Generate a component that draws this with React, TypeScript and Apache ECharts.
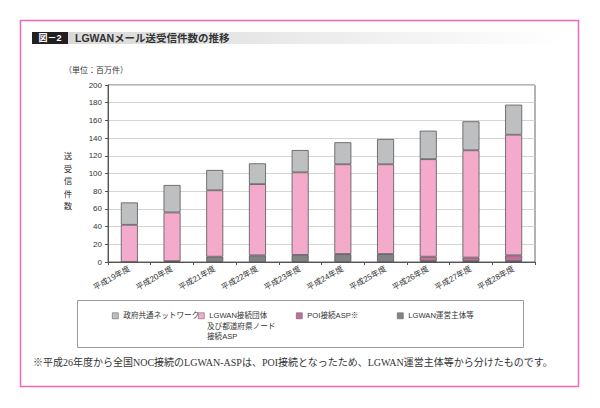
import React, { useEffect, useRef } from "react";
import * as echarts from "echarts";

const categories = [
  "平成19年度", "平成20年度", "平成21年度", "平成22年度", "平成23年度",
  "平成24年度", "平成25年度", "平成26年度", "平成27年度", "平成28年度",
];
// 百万件
const unyoShutai = [0, 1, 6, 7.5, 8, 9, 9, 1, 1, 1];
const poiAsp: (number | null)[] = [null, null, null, null, null, null, null, 5, 4, 6.5];
const lgwanDantai = [42, 55, 75, 80.5, 93.3, 101.4, 101.4, 110.2, 121.2, 136.3];
const seifuNet = [25.3, 31, 23, 23.5, 25.2, 24.9, 28.6, 32.2, 32.8, 34];
const yTicks = { min: 0, max: 200, interval: 20 };

const names = [
  "政府共通ネットワーク",
  "LGWAN接続団体及び都道府県ノード接続ASP",
  "POI接続ASP※",
  "LGWAN運営主体等",
];

const SANS = "Liberation Sans, Noto Sans CJK JP, sans-serif";

export default function App() {
  const ref = useRef<HTMLDivElement>(null);
  useEffect(() => {
    if (!ref.current) return;
    const chart = echarts.init(ref.current, null, { renderer: "svg" });
    const border = { borderColor: "#555", borderWidth: 0.8 };
    const mk = (name: string, data: any[], color: string) => ({
      name,
      type: "bar",
      stack: "total",
      data,
      barWidth: 17,
      itemStyle: { color, ...border },
    });
    const legendBase = {
      top: 312,
      padding: 0,
      itemWidth: 6,
      itemHeight: 6,
      itemGap: 3,
      icon: "rect",
      itemStyle: { borderColor: "#666", borderWidth: 0.6 },
      textStyle: { fontSize: 7.6, color: "#333", fontFamily: SANS },
      selectedMode: false,
    };
    chart.setOption({
      animation: false,
      backgroundColor: "#fff",
      textStyle: { fontFamily: SANS },
      grid: { left: 108, right: 65, top: 85, bottom: 146, show: true, borderColor: "#666", borderWidth: 1 },
      legend: [
        { ...legendBase, left: 112, data: [names[0]] },
        { ...legendBase, left: 198, data: [names[1]], formatter: () => "LGWAN接続団体" },
        { ...legendBase, left: 296, data: [names[2]] },
        { ...legendBase, left: 397, data: [names[3]] },
      ],
      xAxis: {
        type: "category",
        data: categories,
        axisLine: { lineStyle: { color: "#555" } },
        axisTick: { show: true, length: 3, lineStyle: { color: "#555" } },
        axisLabel: { rotate: 30, fontSize: 8, color: "#333", margin: 6, fontFamily: SANS },
      },
      yAxis: {
        type: "value",
        ...yTicks,
        axisLine: { show: true, lineStyle: { color: "#555" } },
        axisTick: { show: true, length: 3, lineStyle: { color: "#555" } },
        axisLabel: { fontSize: 8, color: "#333", margin: 6, fontFamily: SANS },
        splitLine: { lineStyle: { color: "#d4d4d4" } },
      },
      series: [
        mk(names[3], unyoShutai, "#838385"),
        mk(names[2], poiAsp, "#c2709b"),
        mk(names[1], lgwanDantai, "#f4aacb"),
        mk(names[0], seifuNet, "#bebfc1"),
      ],
      graphic: [
        { type: "rect", shape: { x: 20.5, y: 20.5, width: 558, height: 366 }, style: { fill: "none", stroke: "#f06ab8", lineWidth: 1.5 } },
        {
          type: "rect",
          shape: { x: 68, y: 32, width: 497, height: 12 },
          style: {
            fill: new echarts.graphic.LinearGradient(0, 0, 1, 0, [
              { offset: 0, color: "#d9d9d9" },
              { offset: 1, color: "#ffffff" },
            ]),
          },
        },
        { type: "rect", shape: { x: 32, y: 32, width: 36, height: 12 }, style: { fill: "#231f20" } },
        { type: "text", x: 50, y: 38, style: { text: "図－2", fill: "#fff", font: `bold 9px ${SANS}`, align: "center", verticalAlign: "middle" } },
        { type: "text", x: 75, y: 38, style: { text: "LGWANメール送受信件数の推移", fill: "#333", font: `bold 10.5px ${SANS}`, verticalAlign: "middle" } },
        { type: "text", x: 64, y: 70, style: { text: "（単位：百万件）", fill: "#333", font: `8px ${SANS}`, verticalAlign: "middle" } },
        { type: "text", x: 68, y: 180, style: { text: "送\n受\n信\n件\n数", fill: "#333", font: `8.5px Noto Sans CJK JP, sans-serif`, lineHeight: 12.5, align: "center", verticalAlign: "middle" } },
        { type: "text", x: 207, y: 321, style: { text: "及び都道府県ノード\n接続ASP", fill: "#333", font: `7.6px ${SANS}`, lineHeight: 10 } },
        { type: "rect", shape: { x: 77.5, y: 300.5, width: 446, height: 47 }, style: { fill: "none", stroke: "#999", lineWidth: 1 } },
        {
          type: "text",
          x: 33,
          y: 362,
          style: {
            text: "※平成26年度から全国NOC接続のLGWAN-ASPは、POI接続となったため、LGWAN運営主体等から分けたものです。",
            fill: "#333",
            font: `10px Liberation Serif, Noto Sans CJK JP, serif`,
            verticalAlign: "middle",
          },
        },
      ],
    });
    return () => chart.dispose();
  }, []);
  return <div ref={ref} style={{ position: "fixed", left: 0, top: 0, width: 600, height: 408 }} />;
}
